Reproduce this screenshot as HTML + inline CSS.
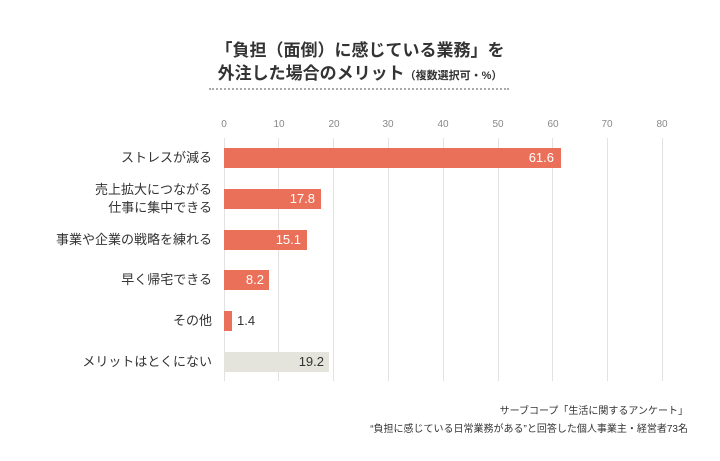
<!DOCTYPE html>
<html><head><meta charset="utf-8">
<style>
*{margin:0;padding:0;box-sizing:border-box}
body{width:720px;height:461px;background:#fff;position:relative;overflow:hidden;font-family:"Liberation Sans","Noto Sans CJK JP",sans-serif;color:#333}
.t{position:absolute;white-space:nowrap}
.title{left:0;width:720px;text-align:center;font-weight:bold;font-size:17px;color:#333}
.dots{position:absolute;left:209px;top:88px;width:300px;border-top:2px dotted #aaa}
.grid{position:absolute;top:138px;height:243px;width:1px;background:#e2e2e2}
.tick{position:absolute;top:119px;font-size:10px;color:#888;width:30px;margin-left:-15px;text-align:center}
.bar{position:absolute;left:224px;height:20px;background:#eb705a}
.bar.g{background:#e4e4dc}
.val{position:absolute;font-size:13px;color:#fff;line-height:20px;text-align:right}
.lab{position:absolute;right:508px;font-size:13px;color:#333;text-align:right;white-space:nowrap;line-height:18px}
.foot{position:absolute;right:32px;font-size:10px;color:#333;white-space:nowrap}
</style></head><body>
<div class="t title" style="top:36px">「負担（面倒）に感じている業務」を</div>
<div class="t title" style="top:59px">外注した場合のメリット<span style="font-size:11px">（複数選択可・%）</span></div>
<div class="dots"></div>

<div class="grid" style="left:224px"></div>
<div class="grid" style="left:278px"></div>
<div class="grid" style="left:333px"></div>
<div class="grid" style="left:388px"></div>
<div class="grid" style="left:443px"></div>
<div class="grid" style="left:498px"></div>
<div class="grid" style="left:552px"></div>
<div class="grid" style="left:607px"></div>
<div class="grid" style="left:662px"></div>

<div class="tick" style="left:224px">0</div>
<div class="tick" style="left:279px">10</div>
<div class="tick" style="left:334px">20</div>
<div class="tick" style="left:388px">30</div>
<div class="tick" style="left:443px">40</div>
<div class="tick" style="left:498px">50</div>
<div class="tick" style="left:553px">60</div>
<div class="tick" style="left:607px">70</div>
<div class="tick" style="left:662px">80</div>

<div class="bar" style="top:148px;width:337px"></div>
<div class="val" style="top:148px;left:224px;width:330px">61.6</div>
<div class="lab" style="top:149px">ストレスが減る</div>

<div class="bar" style="top:189px;width:97px"></div>
<div class="val" style="top:189px;left:224px;width:91px">17.8</div>
<div class="lab" style="top:181px">売上拡大につながる<br>仕事に集中できる</div>

<div class="bar" style="top:230px;width:83px"></div>
<div class="val" style="top:230px;left:224px;width:77px">15.1</div>
<div class="lab" style="top:231px">事業や企業の戦略を練れる</div>

<div class="bar" style="top:270px;width:45px"></div>
<div class="val" style="top:270px;left:224px;width:40px">8.2</div>
<div class="lab" style="top:271px">早く帰宅できる</div>

<div class="bar" style="top:311px;width:8px"></div>
<div class="val" style="top:311px;left:237px;color:#333;text-align:left">1.4</div>
<div class="lab" style="top:312px">その他</div>

<div class="bar g" style="top:352px;width:105px"></div>
<div class="val" style="top:352px;left:224px;width:100px;color:#333">19.2</div>
<div class="lab" style="top:353px">メリットはとくにない</div>

<div class="foot" style="top:402px">サーブコープ「生活に関するアンケート」</div>
<div class="foot" style="top:420px">“負担に感じている日常業務がある”と回答した個人事業主・経営者73名</div>
</body></html>
